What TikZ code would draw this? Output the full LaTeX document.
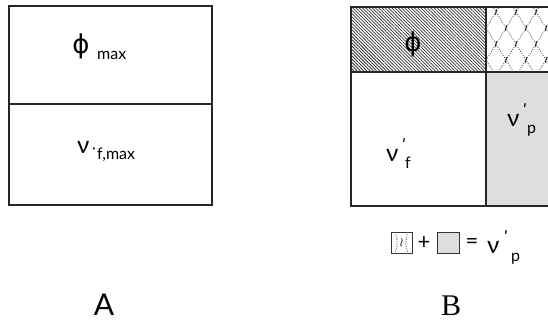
\documentclass[tikz,border=0pt]{standalone}
\usepackage{fontspec}
\setmainfont{Lato}
\newfontfamily\seriffont{Liberation Serif}
\newfontfamily\dvfont{DejaVu Sans}
\usetikzlibrary{patterns.meta}
\begin{document}
\begin{tikzpicture}[x=1pt,y=-1pt,
  frame/.style={line width=1.3pt, draw=black!85},
  thinframe/.style={line width=0.8pt, draw=black!80},
  bigsym/.style={inner sep=0pt, font=\dvfont\fontsize{26}{26}\selectfont},
  nu/.style={inner sep=0pt, anchor=base west, font=\fontsize{24}{24}\selectfont},
  subs/.style={inner sep=0pt, anchor=base west, font=\fontsize{16}{16}\selectfont},
  primemark/.style={inner sep=0pt, font=\dvfont\fontsize{16}{16}\selectfont},
  oper/.style={inner sep=0pt, font=\fontsize{22}{22}\selectfont},
  letter/.style={inner sep=0pt, font=\fontsize{30}{30}\selectfont},
  squig/.style={line width=0.8pt, draw=black!80},
  latt/.style={line width=0.9pt, draw=black!65, dash pattern=on 0.9pt off 1.5pt},
]
\useasboundingbox (0,0) rectangle (548,322);
\fill[white] (0,0) rectangle (548,322);

% ---------- Box A ----------
\draw[frame] (9,6) rectangle (212,205);
\draw[frame] (9,104) -- (212,104);
\node[bigsym] (phiA) at (81,46) {ϕ};
\node[subs] (maxA) at (97,59) {max};
\node[nu] (nuA) at (77,153) {ν};
\node[primemark] (prA) at (94,151) {·};
\node[subs] (fmaxA) at (97,159) {f,max};
\node[letter] (labA) at (104,305) {A};

% ---------- Box B ----------
\begin{scope}
\clip (0,0) rectangle (548,322);
\fill[pattern={Lines[angle=-45,distance=2.3pt,line width=0.75pt]}, pattern color=black!80] (351,7) rectangle (486,72);
\fill[black!13] (486,72) rectangle (600,206);
\begin{scope}
\clip (486,7) rectangle (600,72);
\foreach \i in {-4,...,8}{
  \draw[latt] (486+20*\i,-4) -- ++(60,96);
  \draw[latt] (486+20*\i,-4) -- ++(-60,96);
}
\foreach \i in {0,...,3}{
  \foreach \j in {0,2}{
    \draw[squig] (496+20*\i,9+16*\j) .. controls +(2.8,1.8) and +(-2.8,-1.8) .. +(0,6);
  }
}
\foreach \i in {0,...,3}{
  \foreach \j in {1,3}{
    \draw[squig] (486+20*\i,9+16*\j) .. controls +(2.8,1.8) and +(-2.8,-1.8) .. +(0,6);
  }
}
\end{scope}
\draw[frame] (351,7) rectangle (600,206);
\draw[frame] (351,72) -- (600,72);
\draw[frame] (486,7) -- (486,206);
\end{scope}

\node[bigsym] (phiB) at (413,44) {ϕ};
\node[nu] (nuF) at (386,161) {ν};
\node[primemark] (prF) at (404,145) {ʹ};
\node[subs] (subF) at (405,168) {f};
\node[nu] (nuP) at (507,126) {ν};
\node[primemark] (prP) at (525,110) {ʹ};
\node[subs] (subP) at (527,133) {p};

% ---------- legend ----------
\draw[thinframe, fill=white] (391,232) rectangle (412,253);
\draw[latt] (395,232) .. controls (398,240) and (398,246) .. (395,253);
\draw[latt] (408,232) .. controls (405,240) and (405,246) .. (408,253);
\draw[squig] (401.5,238.5) .. controls +(3,1.8) and +(-3,-1.8) .. +(0,8);
\draw[thinframe, fill=black!13] (437,232) rectangle (459,253);
\node[oper] (plusL) at (424,243) {+};
\node[oper] (eqL) at (472,243) {=};
\node[nu] (nuL) at (487,253) {ν};
\node[primemark] (prL) at (506,237) {ʹ};
\node[subs] (subL) at (511,261) {p};

\node[letter, font=\seriffont\fontsize{30}{30}\selectfont] (labB) at (451,306) {B};
\end{tikzpicture}
\end{document}
